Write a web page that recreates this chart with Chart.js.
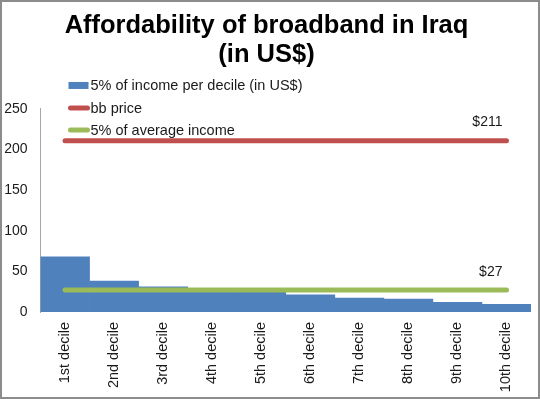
<!DOCTYPE html>
<html>
<head>
<meta charset="utf-8">
<script src="https://cdn.jsdelivr.net/npm/chart.js@4/dist/chart.umd.min.js"></script>
<style>
  html, body { margin: 0; padding: 0; background: #fff; }
  #frame {
    width: 540px; height: 399px; box-sizing: border-box;
    border: 2px solid #8c8c8c; background: #fff; position: relative;
  }
  #wrap { position: absolute; left: 0; top: 0; width: 536px; height: 395px; }
</style>
</head>
<body>
<div id="frame"><div id="wrap"><canvas id="chart"></canvas></div></div>
<script>
// ── Data ──
var deciles = ['1st decile','2nd decile','3rd decile','4th decile','5th decile',
               '6th decile','7th decile','8th decile','9th decile','10th decile'];
var incomeShare = [68, 38, 31, 28, 25, 21, 17, 16, 12, 9.5];
var bbPrice = [211, 211, 211, 211, 211, 211, 211, 211, 211, 211];
var avgIncomeShare = [27, 27, 27, 27, 27, 27, 27, 27, 27, 27];
var yTicks = [0, 50, 100, 150, 200, 250];

var FONT = 'Liberation Sans, Arial, sans-serif';
var INK = '#1a1a1a';
var BLUE = '#4F81BD', RED = '#C0504D', GREEN = '#9BBB59';

// ── Legend drawn over the plot (Excel style, vertical, top-left) ──
var overlayLegend = {
  id: 'overlayLegend',
  afterDraw: function(chart) {
    var ctx = chart.ctx, a = chart.chartArea;
    var x0 = a.left + 28, tx = a.left + 50;
    var rows = [a.top - 24, a.top - 1, a.top + 21];
    ctx.save();
    ctx.font = '14.5px ' + FONT;
    ctx.textBaseline = 'middle';
    ctx.textAlign = 'left';
    chart.data.datasets.forEach(function(ds, i) {
      var y = rows[i];
      if (ds.type === 'bar') {
        ctx.fillStyle = ds.backgroundColor;
        ctx.fillRect(x0, y - 3, 20, 7);
      } else {
        ctx.strokeStyle = ds.borderColor;
        ctx.lineWidth = 5;
        ctx.lineCap = 'round';
        ctx.beginPath();
        ctx.moveTo(x0 + 2, y);
        ctx.lineTo(x0 + 19, y);
        ctx.stroke();
      }
      ctx.fillStyle = INK;
      ctx.fillText(ds.label, tx, y + 1);
    });
    ctx.restore();
  }
};

// ── Value label at the end of each line ──
var endLabels = {
  id: 'endLabels',
  afterDatasetsDraw: function(chart) {
    var ctx = chart.ctx;
    ctx.save();
    ctx.font = '14px ' + FONT;
    ctx.fillStyle = INK;
    ctx.textAlign = 'right';
    ctx.textBaseline = 'middle';
    chart.data.datasets.forEach(function(ds, i) {
      if (ds.type !== 'line') return;
      var meta = chart.getDatasetMeta(i);
      var last = meta.data[meta.data.length - 1];
      var v = ds.data[ds.data.length - 1];
      ctx.fillText('$' + v, last.x - 4, last.y - 18);
    });
    ctx.restore();
  }
};

new Chart(document.getElementById('chart'), {
  type: 'bar',
  data: {
    labels: deciles,
    datasets: [
      { type: 'bar', label: '5% of income per decile (in US$)', data: incomeShare,
        backgroundColor: BLUE, barPercentage: 1, categoryPercentage: 1, order: 2 },
      { type: 'line', label: 'bb price', data: bbPrice,
        borderColor: RED, backgroundColor: RED, borderWidth: 5, borderCapStyle: 'round',
        pointRadius: 0, fill: false, order: 1 },
      { type: 'line', label: '5% of average income', data: avgIncomeShare,
        borderColor: GREEN, backgroundColor: GREEN, borderWidth: 5, borderCapStyle: 'round',
        pointRadius: 0, fill: false, order: 1 }
    ]
  },
  options: {
    responsive: true,
    maintainAspectRatio: false,
    animation: false,
    layout: { padding: { left: 0, right: 7, top: 0, bottom: 0 } },
    plugins: {
      legend: { display: false },
      tooltip: { enabled: false },
      title: {
        display: true,
        text: ['Affordability of broadband in Iraq', '(in US$)'],
        color: '#000',
        font: { family: FONT, size: 25.5, weight: 'bold', lineHeight: 1.16 },
        padding: { top: 9, bottom: 38.8 }
      }
    },
    scales: {
      x: {
        grid: { display: false, drawTicks: false },
        border: { display: false },
        ticks: {
          color: INK, font: { family: FONT, size: 14.5 },
          minRotation: 90, maxRotation: 90, autoSkip: false, padding: 10
        },
        afterFit: function(s) { s.height = 85; }
      },
      y: {
        min: 0, max: 250,
        grid: { display: false, drawTicks: false },
        border: { display: true, color: '#a6a6a6', width: 1 },
        ticks: { color: INK, font: { family: FONT, size: 14 }, padding: 13, stepSize: 50 },
        afterBuildTicks: function(s) { s.ticks = yTicks.map(function(v) { return { value: v }; }); },
        afterFit: function(s) { s.width = 38.5; }
      }
    }
  },
  plugins: [overlayLegend, endLabels]
});
</script>
</body>
</html>
